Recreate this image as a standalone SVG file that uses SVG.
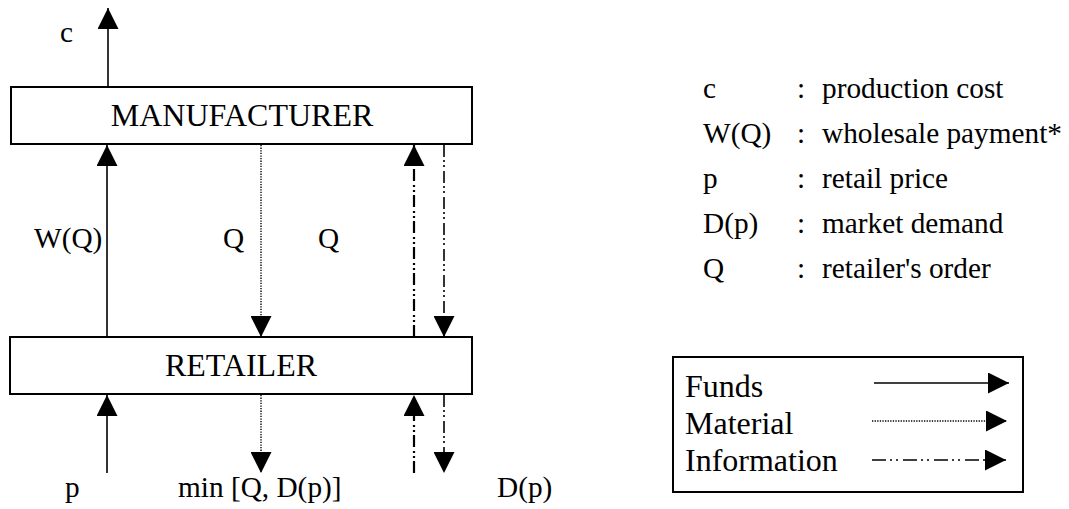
<svg xmlns="http://www.w3.org/2000/svg" width="1069" height="509" viewBox="0 0 1069 509">
  <style>
    text { font-family: "Liberation Serif", "Times New Roman", serif; fill: #000; }
    .node-label { font-size: 32px; }
    .label { font-size: 29.3px; }
    .key { font-size: 32px; }
    .box { fill: #fff; stroke: #000; stroke-width: 2; }
    .funds { stroke: #000; stroke-width: 1.6; fill: none; }
    .material { stroke: #000; stroke-width: 1.4; fill: none; stroke-dasharray: 1.3 1.3; }
    .info { stroke: #000; stroke-width: 1.6; fill: none; stroke-dasharray: 12 3 2 3 2 4; }
    .info-bold { stroke-width: 2.2; }
    .info-key { stroke-dasharray: 14 4 2 4 2 5; }
  </style>
  <defs>
    <marker id="head" markerUnits="userSpaceOnUse" markerWidth="21" markerHeight="21" refX="21" refY="10.5" orient="auto" viewBox="0 0 21 21">
      <path d="M0,0 L21,10.5 L0,21 z" fill="#000"/>
    </marker>
  </defs>

  <!-- flows between and around the two firms -->
  <g id="connectors">
    <!-- production cost leaving the manufacturer -->
    <line class="funds" x1="108" y1="87" x2="108" y2="8" marker-end="url(#head)"/>
    <!-- wholesale payment W(Q) -->
    <line class="funds" x1="107" y1="337" x2="107" y2="145" marker-end="url(#head)"/>
    <!-- material shipment Q -->
    <line class="material" x1="261" y1="145" x2="261" y2="337" marker-end="url(#head)"/>
    <!-- order Q (information) -->
    <line class="info info-bold" x1="414" y1="337" x2="414" y2="145" marker-end="url(#head)"/>
    <line class="info" x1="444" y1="145" x2="444" y2="337" marker-end="url(#head)"/>
    <!-- retail price p from the market -->
    <line class="funds" x1="107" y1="473" x2="107" y2="395" marker-end="url(#head)"/>
    <!-- sales min[Q, D(p)] -->
    <line class="material" x1="261" y1="395" x2="261" y2="473" marker-end="url(#head)"/>
    <!-- demand information -->
    <line class="info info-bold" x1="414" y1="473" x2="414" y2="395" marker-end="url(#head)"/>
    <line class="info" x1="444" y1="395" x2="444" y2="473" marker-end="url(#head)"/>
  </g>

  <g id="manufacturer">
    <rect class="box" x="11" y="87" width="461" height="57"/>
    <text class="node-label" x="242" y="126" text-anchor="middle">MANUFACTURER</text>
  </g>

  <g id="retailer">
    <rect class="box" x="10" y="337" width="462" height="57"/>
    <text class="node-label" x="241" y="376" text-anchor="middle">RETAILER</text>
  </g>

  <!-- flow labels -->
  <g id="flow-labels">
    <text class="label" x="60" y="42">c</text>
    <text class="label" x="34" y="248">W(Q)</text>
    <text class="label" x="223" y="248">Q</text>
    <text class="label" x="318" y="248">Q</text>
    <text class="label" x="65" y="497">p</text>
    <text class="label" x="178" y="497">min [Q, D(p)]</text>
    <text class="label" x="497" y="497">D(p)</text>
  </g>

  <!-- symbol definitions -->
  <g id="symbols">
    <text class="label" x="703" y="98">c</text>
    <text class="label" x="797" y="98">:</text>
    <text class="label" x="822" y="98">production cost</text>
    <text class="label" x="703" y="143">W(Q)</text>
    <text class="label" x="797" y="143">:</text>
    <text class="label" x="822" y="143">wholesale payment*</text>
    <text class="label" x="703" y="188">p</text>
    <text class="label" x="797" y="188">:</text>
    <text class="label" x="822" y="188">retail price</text>
    <text class="label" x="703" y="233">D(p)</text>
    <text class="label" x="797" y="233">:</text>
    <text class="label" x="822" y="233">market demand</text>
    <text class="label" x="703" y="278">Q</text>
    <text class="label" x="797" y="278">:</text>
    <text class="label" x="822" y="278">retailer's order</text>
  </g>

  <!-- line-style key -->
  <g id="legend">
    <rect class="box" x="673" y="357" width="350" height="135"/>
    <text class="key" x="685" y="397">Funds</text>
    <text class="key" x="685" y="434">Material</text>
    <text class="key" x="685" y="471">Information</text>
    <line class="funds" x1="874" y1="383" x2="1009" y2="383" marker-end="url(#head)"/>
    <line class="material" x1="872" y1="421" x2="1007" y2="421" marker-end="url(#head)"/>
    <line class="info info-key" x1="872" y1="460" x2="1006" y2="460" marker-end="url(#head)"/>
  </g>
</svg>
